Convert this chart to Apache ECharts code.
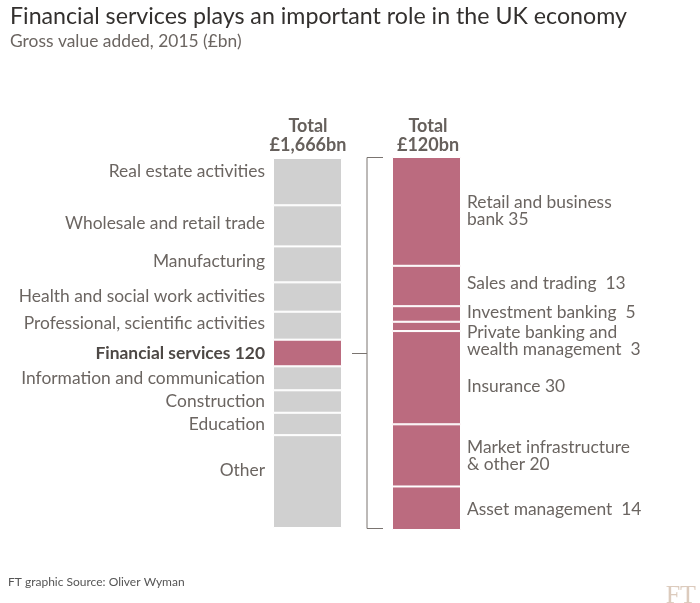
<!DOCTYPE html>
<html><head><meta charset="utf-8">
<script src="https://cdn.jsdelivr.net/npm/echarts@6/dist/echarts.min.js"></script>
<style>html,body{margin:0;padding:0;background:#fff}#c{width:700px;height:603px}</style>
</head><body><div id="c"></div>
<script>
const leftCategories = ["Real estate activities","Wholesale and retail trade","Manufacturing","Health and social work activities","Professional, scientific activities","Financial services 120","Information and communication","Construction","Education","Other"];
const leftValues = [213,185,162,132,126,120,108,101,101,418];
const leftTotal = 1666;
const rightCategories = ["Retail and business\nbank 35","Sales and trading  13","Investment banking  5","Private banking and\nwealth management  3","Insurance 30","Market infrastructure\n& other 20","Asset management  14"];
const rightValues = [35,13,5,3,30,20,14];
const rightTotal = 120;
const leftLabelOffsets = [-10,-2,-3,-1,-2,0,0,0,0,-11];
const rightLabelOffsets = [-1,-3,-2,14,9,0,1];

const GREY = '#d0d0d0', PINK = '#bb6b7f', TXT = '#6b6561';
const FONT = 'Lato';
const FS = 17.4;
const series = [];
leftValues.forEach((v,i)=>{
  const fin = i===5;
  series.push({type:'bar',name:leftCategories[i],xAxisIndex:0,yAxisIndex:0,stack:'L',barWidth:'100%',
    data:[v],itemStyle:{color:fin?PINK:GREY,borderColor:'#fff',borderWidth:1},
    label:{show:true,position:'left',distance:8,offset:[0,leftLabelOffsets[i]],formatter:leftCategories[i],
      color:fin?'#4d4845':TXT,fontWeight:fin?'bold':'normal',fontFamily:FONT,fontSize:FS}});
});
rightValues.forEach((v,i)=>{
  series.push({type:'bar',name:rightCategories[i],xAxisIndex:1,yAxisIndex:1,stack:'R',barWidth:'100%',
    data:[v],itemStyle:{color:PINK,borderColor:'#fff',borderWidth:1},
    label:{show:true,position:'right',distance:6,offset:[0,rightLabelOffsets[i]],formatter:rightCategories[i],
      color:TXT,fontFamily:FONT,fontSize:FS,lineHeight:17,align:'left'}});
});
const chart = echarts.init(document.getElementById('c'));
chart.setOption({
  animation:false,
  backgroundColor:'#fff',
  title:[
    {text:'Financial services plays an important role in the UK economy',left:5,top:0,
     textStyle:{fontFamily:FONT,fontSize:23.2,fontWeight:'normal',color:'#33302e'}},
    {text:'Gross value added, 2015 (£bn)',left:5,top:28,textStyle:{fontFamily:FONT,fontSize:17.4,fontWeight:'normal',color:TXT}},
    {text:'Total\n£'+leftTotal.toLocaleString('en-GB')+'bn',left:303,top:112,textAlign:'center',
     textStyle:{fontFamily:FONT,fontSize:18,fontWeight:'bold',color:'#66605c',lineHeight:19,align:'center'}},
    {text:'Total\n£'+rightTotal+'bn',left:423,top:112,textAlign:'center',
     textStyle:{fontFamily:FONT,fontSize:18,fontWeight:'bold',color:'#66605c',lineHeight:19,align:'center'}},
    {text:'FT graphic Source: Oliver Wyman',left:3,top:571,textStyle:{fontFamily:FONT,fontSize:12,fontWeight:'normal',color:'#555'}},
    {text:'FT',right:4,top:583,padding:0,textStyle:{fontFamily:'Liberation Serif',fontSize:26,fontWeight:'normal',color:'#dccbbd'}}
  ],
  grid:[{left:273,width:69,top:158,height:370},{left:392,width:69,top:157,height:373}],
  xAxis:[{type:'category',gridIndex:0,data:['a'],show:false},{type:'category',gridIndex:1,data:['b'],show:false}],
  yAxis:[{type:'value',gridIndex:0,min:0,max:leftTotal,inverse:true,show:false},
         {type:'value',gridIndex:1,min:0,max:rightTotal,inverse:true,show:false}],
  series:series
});
// bracket annotation
const finStart = leftValues.slice(0,5).reduce((a,b)=>a+b,0);
const finMid = finStart + leftValues[5]/2;
const pFin = chart.convertToPixel({xAxisIndex:0,yAxisIndex:0},['a',finMid]);
const pTop = chart.convertToPixel({xAxisIndex:1,yAxisIndex:1},['b',0]);
const pBot = chart.convertToPixel({xAxisIndex:1,yAxisIndex:1},['b',rightTotal]);
const leftEdgeR = 392, bx = leftEdgeR - 25, tickEnd = leftEdgeR - 9, finRight = 342 + 10;
const st = {stroke:'#7a7470',lineWidth:1};
chart.setOption({graphic:[
  {type:'polyline',shape:{points:[[tickEnd,pTop[1]+0.5],[bx,pTop[1]+0.5],[bx,pBot[1]-1.5],[tickEnd,pBot[1]-1.5]]},style:st},
  {type:'line',shape:{x1:finRight,y1:Math.round(pFin[1])+0.5,x2:bx,y2:Math.round(pFin[1])+0.5},style:st}
]});
</script></body></html>
